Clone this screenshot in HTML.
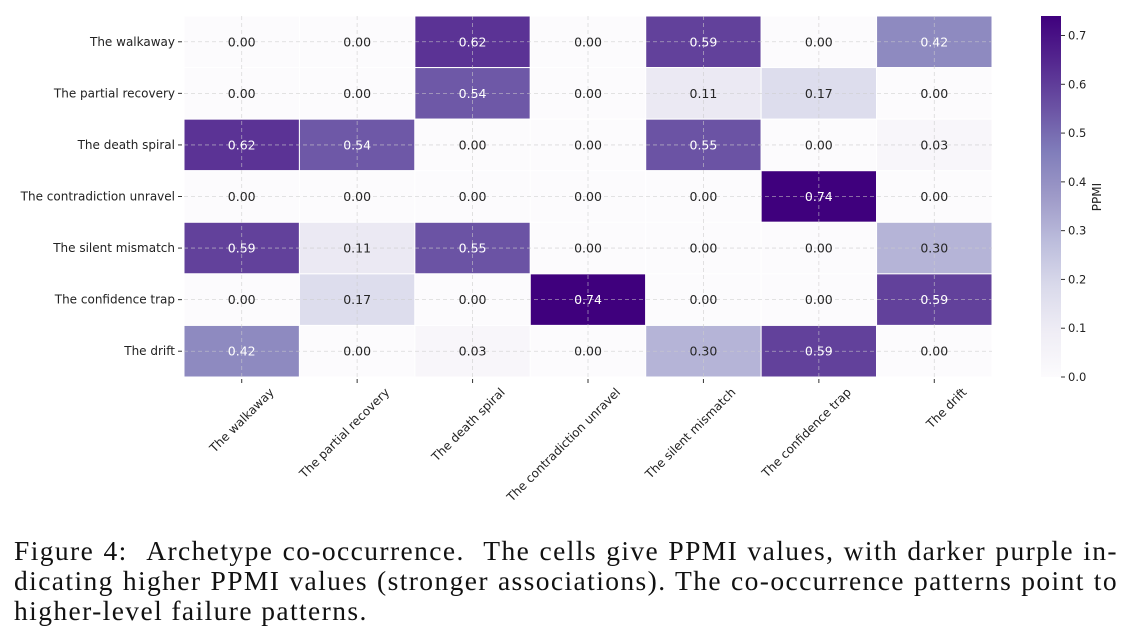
<!DOCTYPE html>
<html><head><meta charset="utf-8"><style>
body{margin:0;width:1133px;height:635px;background:#fff;overflow:hidden;position:relative}
svg{position:absolute;left:0;top:0}
.cap{position:absolute;left:14px;width:1104px;font-family:"Liberation Serif",serif;font-size:27.5px;line-height:30px;color:#111;white-space:nowrap;letter-spacing:1.4px}
.j{text-align:justify;text-align-last:justify}
</style></head><body>
<svg id="chart" width="1133" height="520" font-family="DejaVu Sans, Liberation Sans, sans-serif"></svg>
<div class="cap j" style="top:536px">Figure 4: &nbsp;Archetype co-occurrence. &nbsp;The cells give PPMI values, with darker purple in-</div>
<div class="cap j" style="top:566px">dicating higher PPMI values (stronger associations). The co-occurrence patterns point to</div>
<div class="cap" style="top:596px">higher-level failure patterns.</div>
<script>
const categories=["The walkaway","The partial recovery","The death spiral","The contradiction unravel","The silent mismatch","The confidence trap","The drift"];
const row0=[0,0,0.62,0,0.59,0,0.42];
const row1=[0,0,0.54,0,0.11,0.17,0];
const row2=[0.62,0.54,0,0,0.55,0,0.03];
const row3=[0,0,0,0,0,0.74,0];
const row4=[0.59,0.11,0.55,0,0,0,0.30];
const row5=[0,0.17,0,0.74,0,0,0.59];
const row6=[0.42,0,0.03,0,0.30,0.59,0];
const matrix=[row0,row1,row2,row3,row4,row5,row6];
const cbTicks=[0,0.1,0.2,0.3,0.4,0.5,0.6,0.7];
const vmax=0.74;
const L=184,T=16,R=992,B=377;
const cw=(R-L)/categories.length, ch=(B-T)/categories.length;
const xs=i=>L+i*cw, ys=i=>T+i*ch;
const stops=["#fcfbfd","#efedf5","#dadaeb","#bcbddc","#9e9ac8","#807dba","#6a51a3","#54278f","#3f007d"];
function hex(h){return [1,3,5].map(k=>parseInt(h.substr(k,2),16));}
function color(v){let t=Math.max(0,Math.min(1,v/vmax))*(stops.length-1);let i=Math.min(Math.floor(t),stops.length-2),f=t-i;
const a=hex(stops[i]),b=hex(stops[i+1]);return "rgb("+a.map((c,k)=>Math.round(c+(b[k]-c)*f)).join(",")+")";}
const svg=document.getElementById('chart');const NS="http://www.w3.org/2000/svg";
function mk(tag,attrs,parent){const e=document.createElementNS(NS,tag);for(const k in attrs)e.setAttribute(k,attrs[k]);(parent||svg).appendChild(e);return e;}
matrix.forEach((row,r)=>row.forEach((v,c)=>{
 const rect=mk('rect',{x:xs(c),y:ys(r),width:cw,height:ch,fill:color(v),stroke:'#fff','stroke-width':1});
 
 
}));
for(let i=0;i<categories.length;i++){
 const gx=mk('line',{x1:xs(i)+cw/2,x2:xs(i)+cw/2,y1:T,y2:B,stroke:'#ccc','stroke-width':0.8,'stroke-dasharray':'4,3',opacity:0.7});
 
 
 const gy=mk('line',{x1:L,x2:R,y1:ys(i)+ch/2,y2:ys(i)+ch/2,stroke:'#ccc','stroke-width':0.8,'stroke-dasharray':'4,3',opacity:0.7});
 
 
}
matrix.forEach((row,r)=>row.forEach((v,c)=>{
 const t=mk('text',{x:xs(c)+cw/2,y:ys(r)+ch/2+4.5,'text-anchor':'middle','font-size':12.5,fill:v>0.36?'#fff':'#262626'});
 t.textContent=v.toFixed(2);
 
 
}));
categories.forEach((n,i)=>{
 const y=ys(i)+ch/2;
 mk('line',{x1:L-6,x2:L-2,y1:y,y2:y,stroke:'#333'});
 const t=mk('text',{x:L-9,y:y+4,'text-anchor':'end','font-size':12,fill:'#222'});
 t.textContent=n;
 
 
 const x=xs(i)+cw/2;
 mk('line',{x1:x,x2:x,y1:B+2,y2:B+6,stroke:'#333'});
 const ax=x+33, ay=B+16;
 const tx=mk('text',{x:ax,y:ay,'text-anchor':'end','font-size':12,fill:'#222',transform:'rotate(-45 '+ax+' '+ay+')'});
 tx.textContent=n;
 
 
});
const CL=1041,CW=20;
const cy=v=>B-(v/vmax)*(B-T);
const defs=mk('defs',{});const g=mk('linearGradient',{id:'cg',x1:0,y1:1,x2:0,y2:0},defs);
stops.forEach((s,i)=>mk('stop',{offset:i/(stops.length-1),'stop-color':s},g));
const cb=mk('rect',{x:CL,y:T,width:CW,height:B-T,fill:'url(#cg)'});


cbTicks.forEach(v=>{
 const y=cy(v);
 mk('line',{x1:CL+CW,x2:CL+CW+4,y1:y,y2:y,stroke:'#333'});
 const t=mk('text',{x:CL+CW+7,y:y+4,'font-size':11.5,fill:'#222'});
 t.textContent=v.toFixed(1);
 
 
});
const lab=mk('text',{x:1101,y:197,'font-size':12,fill:'#222','text-anchor':'middle',transform:'rotate(-90 1101 197)'});
lab.textContent='PPMI';


</script>
</body></html>
